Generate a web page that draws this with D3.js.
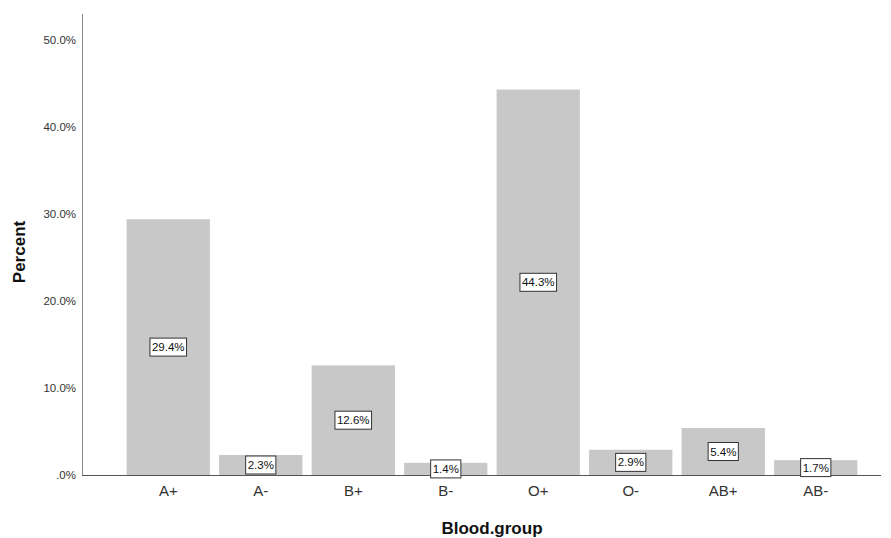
<!DOCTYPE html>
<html><head><meta charset="utf-8">
<script src="https://cdn.jsdelivr.net/npm/d3@7"></script>
<style>body{margin:0;background:#fff}svg{display:block;font-family:Arial,"Liberation Sans",sans-serif}</style>
</head><body>
<script>
const categories = ["A+","A-","B+","B-","O+","O-","AB+","AB-"];
const percents = [29.4,2.3,12.6,1.4,44.3,2.9,5.4,1.7];
const yTicks = [0,10,20,30,40,50];
const W=891,H=538;
const svg=d3.select("body").append("svg").attr("width",W).attr("height",H);
const x=d3.scaleBand().domain(categories).range([122,862]).paddingInner(0.1).paddingOuter(0.05);
const y=d3.scaleLinear().domain([0,50]).range([475,40]);
// bars
svg.selectAll("rect.bar").data(categories).enter().append("rect").attr("class","bar")
  .attr("x",d=>x(d)).attr("width",x.bandwidth())
  .attr("y",(d,i)=>y(percents[i])).attr("height",(d,i)=>y(0)-y(percents[i]))
  .attr("fill","#c8c8c8");
// axes
const yAxis=d3.axisLeft(y).tickValues(yTicks).tickSize(0).tickPadding(6)
  .tickFormat(d=>d===0?".0%":d3.format(".1f")(d)+"%");
const gy=svg.append("g").attr("transform","translate(82,0)").call(yAxis);
gy.select(".domain").remove();
gy.selectAll("text").attr("font-size",11.5).attr("fill","#333").attr("font-family","Arial,'Liberation Sans',sans-serif");
svg.append("line").attr("x1",82.5).attr("x2",82.5).attr("y1",14).attr("y2",475).attr("stroke","#888");
const xAxis=d3.axisBottom(x).tickSize(0).tickPadding(10);
const gx=svg.append("g").attr("transform","translate(0,475)").call(xAxis);
gx.select(".domain").remove();
gx.selectAll("text").attr("font-size",15).attr("fill","#333").attr("font-family","Arial,'Liberation Sans',sans-serif");
svg.append("line").attr("x1",82).attr("x2",881).attr("y1",475.5).attr("y2",475.5).attr("stroke","#555");
// labels
const lab=svg.selectAll("g.lab").data(categories).enter().append("g").attr("class","lab")
  .attr("transform",(d,i)=>`translate(${x(d)+x.bandwidth()/2},${(y(0)+y(percents[i]))/2})`);
lab.each(function(d,i){
  const g=d3.select(this);
  const t=g.append("text").text(d3.format(".1f")(percents[i])+"%").attr("font-size",11.5)
    .attr("text-anchor","middle").attr("dy","0.35em").attr("fill","#111");
  const bb=t.node().getBBox();
  g.insert("rect","text").attr("x",bb.x-2).attr("y",-9).attr("width",bb.width+4).attr("height",18)
    .attr("fill","#fff").attr("stroke","#333").attr("stroke-width",1);
});
svg.append("text").attr("transform","translate(25,252) rotate(-90)").attr("text-anchor","middle")
  .attr("font-size",17).attr("font-weight","bold").attr("fill","#111").text("Percent");
svg.append("text").attr("x",492).attr("y",534).attr("text-anchor","middle")
  .attr("font-size",17).attr("font-weight","bold").attr("fill","#111").text("Blood.group");
</script>
</body></html>
